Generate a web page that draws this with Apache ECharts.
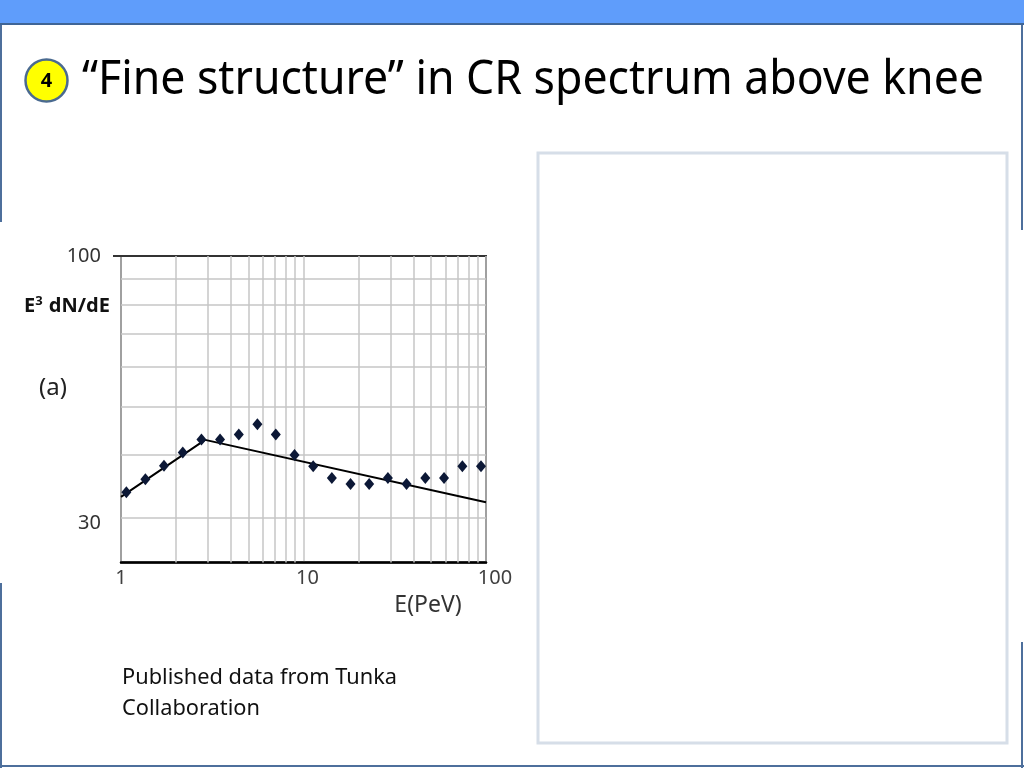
<!DOCTYPE html>
<html>
<head>
<meta charset="utf-8">
<script src="https://cdn.jsdelivr.net/npm/echarts@6/dist/echarts.min.js"></script>
<style>
html,body{margin:0;padding:0;background:#fff;}
#chart{width:1024px;height:768px;}
</style>
</head>
<body>
<div id="chart"></div>
<script>
// ---- data ----
const energy = [1.07, 1.36, 1.72, 2.18, 2.76, 3.49, 4.42, 5.59, 7.05, 8.93, 11.3, 14.3, 18.1, 22.9, 29.0, 36.7, 46.5, 58.9, 74.2, 93.9];
const flux   = [33.7, 35.8, 38.1, 40.5, 43.0, 43.0, 44.0, 46.1, 44.0, 40.0, 38.0, 36.0, 35.0, 35.0, 36.0, 35.0, 36.0, 36.0, 38.0, 38.0];
const fitEnergy = [1, 2.89, 100];
const fitFlux   = [33.0, 42.9, 32.2];
const xMinorGrid = [2, 3, 4, 5, 6, 7, 8, 9, 20, 30, 40, 50, 60, 70, 80, 90];
const yMinorGrid = [30, 40, 50, 60, 70, 80, 90];
const yTickLabels = [30, 100];
const xRange = [1, 100];
const yRange = [24.4, 100];

const titleText = '\u201CFine structure\u201D in CR spectrum above knee';
const noteLines = ['Published data from Tunka', 'Collaboration'];

// ---- helpers ----
const FONT = '"Noto Sans", "Open Sans", sans-serif';
const mctx = document.createElement('canvas').getContext('2d');
function widthOf(text, font) { mctx.font = font; return mctx.measureText(text).width; }

const chart = echarts.init(document.getElementById('chart'), null, {renderer: 'canvas'});

const titleFont = '48px ' + FONT;
const titleScale = 902 / widthOf(titleText, titleFont);
const noteFont = '22px ' + FONT;
const noteScale = 275 / widthOf(noteLines[0], noteFont);

const gridLineStyle = {color: '#c6c6c6', width: 1.5, type: 'solid'};
const gridMarks = yMinorGrid.map(v => ({yAxis: v})).concat(xMinorGrid.map(v => ({xAxis: v})));
const labelMarks = yTickLabels.map((v, i) => ({
  yAxis: v,
  lineStyle: {color: 'rgba(0,0,0,0)', width: 0},
  label: {show: true, position: 'start', formatter: String(v), distance: 20,
          color: '#333', fontSize: 20, fontFamily: FONT,
          offset: [0, i === 0 ? 6 : 0]}
}));

const option = {
  animation: false,
  backgroundColor: '#fff',
  grid: {left: 121, right: 538, top: 256, bottom: 205.5, show: true,
         borderColor: '#333', borderWidth: 2, backgroundColor: '#fff'},
  xAxis: {
    type: 'log', logBase: 10, min: xRange[0], max: xRange[1],
    axisLine: {show: true, onZero: false, lineStyle: {color: '#000', width: 2.5}},
    axisTick: {show: false},
    axisLabel: {color: '#404040', fontSize: 20, fontFamily: FONT, margin: 6,
      formatter: v => v >= 100 ? '{c|' + v + '}' : (v >= 10 ? '{b|' + v + '}' : '{a|' + v + '}'),
      rich: {
        a: {fontSize: 20, fontFamily: FONT, color: '#404040'},
        b: {fontSize: 20, fontFamily: FONT, color: '#404040', padding: [0, 0, 0, 8]},
        c: {fontSize: 20, fontFamily: FONT, color: '#404040', padding: [0, 0, 0, 18]}
      }},
    splitLine: {show: true, lineStyle: gridLineStyle},
    minorTick: {show: false}, minorSplitLine: {show: false}
  },
  yAxis: {
    type: 'log', logBase: 10, min: yRange[0], max: yRange[1],
    axisLine: {show: true, onZero: false, lineStyle: {color: '#a0a0a0', width: 2}},
    axisTick: {show: false},
    axisLabel: {show: false},
    splitLine: {show: false}
  },
  series: [
    {
      name: 'grid', type: 'line', data: [], z: 1, silent: true,
      markLine: {z: 1, silent: true, symbol: ['none', 'none'], animation: false,
                 label: {show: false}, lineStyle: gridLineStyle, data: gridMarks}
    },
    {
      name: 'ticklabels', type: 'line', data: [], z: 1, silent: true,
      markLine: {z: 1, silent: true, symbol: ['none', 'none'], animation: false, data: labelMarks}
    },
    {
      name: 'fit', type: 'line', z: 3, showSymbol: false, symbol: 'none',
      lineStyle: {color: '#000', width: 2},
      data: fitEnergy.map((e, i) => [e, fitFlux[i]])
    },
    {
      name: 'Tunka', type: 'scatter', z: 6, symbol: 'diamond', symbolSize: [10, 12],
      itemStyle: {color: '#0c1836', opacity: 1},
      data: energy.map((e, i) => [e, flux[i]])
    }
  ],
  graphic: [
    // slide frame
    {type: 'rect', shape: {x: 0, y: 0, width: 1024, height: 23}, style: {fill: '#5f9dfb'}, z: 10},
    {type: 'rect', shape: {x: 0, y: 23, width: 1024, height: 2}, style: {fill: '#3f6596'}, z: 10},
    {type: 'rect', shape: {x: 0, y: 25, width: 2, height: 197}, style: {fill: '#4d6f9c'}, z: 10},
    {type: 'rect', shape: {x: 0, y: 583, width: 2, height: 185}, style: {fill: '#4d6f9c'}, z: 10},
    {type: 'rect', shape: {x: 1021, y: 25, width: 2, height: 205}, style: {fill: '#4d6f9c'}, z: 10},
    {type: 'rect', shape: {x: 1021, y: 642, width: 2, height: 126}, style: {fill: '#4d6f9c'}, z: 10},
    {type: 'rect', shape: {x: 0, y: 765, width: 1024, height: 2}, style: {fill: '#4d6f9c'}, z: 10},
    // right empty panel
    {type: 'rect', shape: {x: 538, y: 153, width: 469, height: 590},
     style: {fill: '#fff', stroke: '#d6dee8', lineWidth: 3}, z: 10},
    // tick at 100 extending left of the plot
    {type: 'rect', shape: {x: 113, y: 255, width: 9, height: 2}, style: {fill: '#333'}, z: 10},
    // badge
    {type: 'circle', shape: {cx: 46.5, cy: 80.5, r: 21}, style: {fill: '#ffff00', stroke: '#4a6a90', lineWidth: 2.5}, z: 10},
    {type: 'text', x: 46.5, y: 81, z: 11,
     style: {text: '4', fill: '#000', font: 'bold 20px ' + FONT, align: 'center', verticalAlign: 'middle'}},
    // title
    {type: 'text', x: 82, y: 80, scaleX: titleScale, z: 11,
     style: {text: titleText, fill: '#000', font: titleFont, align: 'left', verticalAlign: 'middle'}},
    // axis titles
    {type: 'text', x: 24, y: 306, z: 11,
     style: {rich: {b: {font: 'bold 20px ' + FONT, fill: '#111'}, s: {font: 'bold 13px ' + FONT, fill: '#111', padding: [0, 1, 9, 0]}},
             text: '{b|E}{s|3}{b| dN/dE}', align: 'left', verticalAlign: 'middle'}},
    {type: 'text', x: 53, y: 388, z: 11,
     style: {text: '(a)', fill: '#222', font: '24px ' + FONT, align: 'center', verticalAlign: 'middle'}},
    {type: 'text', x: 428, y: 605, z: 11,
     style: {text: 'E(PeV)', fill: '#333', font: '23px ' + FONT, align: 'center', verticalAlign: 'middle'}},
    // note
    {type: 'text', x: 122, y: 678, scaleX: noteScale, z: 11,
     style: {text: noteLines[0], fill: '#111', font: noteFont, align: 'left', verticalAlign: 'middle'}},
    {type: 'text', x: 122, y: 709, scaleX: noteScale, z: 11,
     style: {text: noteLines[1], fill: '#111', font: noteFont, align: 'left', verticalAlign: 'middle'}}
  ]
};
chart.setOption(option);
</script>
</body>
</html>
